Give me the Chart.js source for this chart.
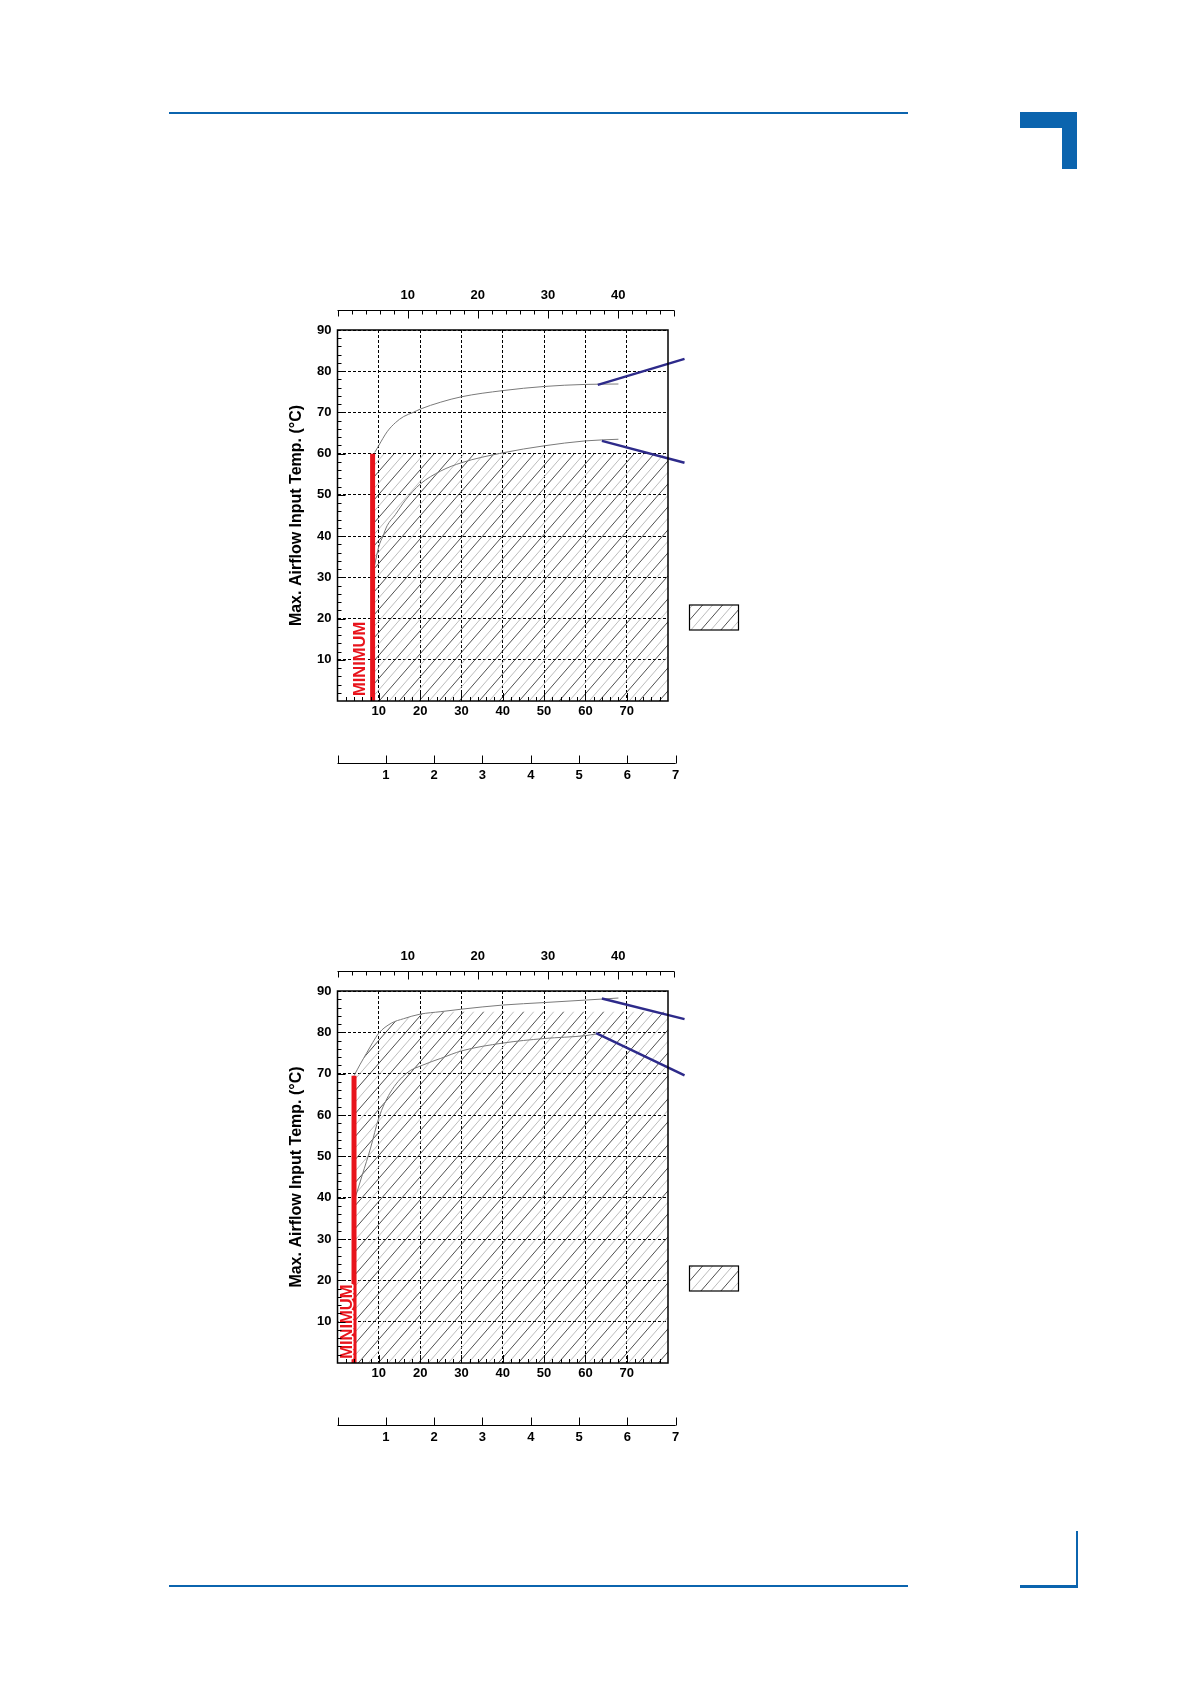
<!DOCTYPE html>
<html lang="en">
<head>
<meta charset="UTF-8">
<title>Max. Airflow Input Temp.</title>
<script src="https://cdn.jsdelivr.net/npm/chart.js@4.4.0/dist/chart.umd.min.js"></script>
<style>
  html, body { margin: 0; padding: 0; background: #fff; }
  body { position: relative; width: 1190px; height: 1684px; overflow: hidden; }
  .blue { position: absolute; background: #0b64ae; }
  canvas { position: absolute; left: 0; }
</style>
</head>
<body>

<div class="blue" style="left:169px; top:112px; width:739px; height:2px"></div>
<div class="blue" style="left:169px; top:1585px; width:739px; height:2px"></div>
<div class="blue" style="left:1020px; top:112px; width:57px; height:16px"></div>
<div class="blue" style="left:1062px; top:112px; width:15px; height:57px"></div>
<div class="blue" style="left:1020px; top:1585px; width:58px; height:2.5px"></div>
<div class="blue" style="left:1075.5px; top:1531px; width:2.5px; height:56px"></div>

<canvas id="chart1" width="800" height="600" style="top:240px"></canvas>
<canvas id="chart2" width="800" height="600" style="top:901px"></canvas>

<script>
// tick labels
const tempTicks = [10, 20, 30, 40, 50, 60, 70, 80, 90];
const flowTicks = [10, 20, 30, 40, 50, 60, 70];
const topTicks = [10, 20, 30, 40];
const speedTicks = [1, 2, 3, 4, 5, 6, 7];

// chart 1
const c1UpperX = [9, 10, 12, 14, 16, 18.3, 20, 25, 30, 40, 50, 60, 68];
const c1UpperY = [60.3, 62, 65.3, 67.5, 69, 70, 70.8, 72.5, 73.8, 75.3, 76.3, 76.8, 76.9];
const c1LowerX = [9, 10, 11, 12, 14, 16.5, 20, 25, 30, 40, 50, 60, 68];
const c1LowerY = [33, 37.5, 40, 42.5, 45.2, 48.8, 52.6, 55.8, 57.8, 60.2, 61.9, 63.1, 63.5];
const c1SafeX = [8.5, 80];
const c1SafeY = [60, 60];
const c1MinFlow = 8.5;
const c1MinTemp = 60;
const c1CallUpper = [[63, 76.7], [84, 83]];
const c1CallLower = [[64, 63.1], [84, 57.8]];

// chart 2
const c2UpperX = [4, 5.5, 7, 8.5, 10, 13, 16, 20, 25, 30, 40, 50, 60, 68];
const c2UpperY = [69.5, 72.3, 74.9, 77.5, 79.8, 82.2, 83.3, 84.4, 85, 85.6, 86.6, 87.2, 87.8, 88.3];
const c2LowerX = [4.3, 6, 8, 10, 12.7, 16.7, 20.7, 25, 30, 40, 50, 60, 62.6];
const c2LowerY = [40, 45.5, 52, 59.3, 65.3, 70.1, 72.1, 73.7, 75.5, 77.4, 78.5, 79.2, 79.6];
const c2SafeX = [4, 5.5, 7, 8.5, 10, 13, 16, 20, 24.5, 80];
const c2SafeY = [69.5, 72.3, 74.9, 77.5, 79.8, 82.2, 83.3, 84.4, 85, 85];
const c2MinFlow = 4;
const c2MinTemp = 69.5;
const c2CallUpper = [[64, 88.2], [84, 83.2]];
const c2CallLower = [[62.6, 79.8], [84, 69.6]];

const family = "'Liberation Sans', Arial, sans-serif";
const tickFont = { family: "'Liberation Sans Narrow', " + family, size: 13, weight: 'bold' };
const red = '#e8141c';
const navy = '#2d2a8a';

function pts(xs, ys) {
    return xs.map((x, i) => ({ x: x, y: ys[i] }));
}

// diagonal hatch, dark and light lines alternating
function hatch() {
    const c = document.createElement('canvas');
    c.width = 40; c.height = 46;
    const g = c.getContext('2d');
    g.lineWidth = 0.9;
    for (let d = -40; d <= 40; d += 20) {
        g.strokeStyle = '#3a3a3a';
        g.beginPath(); g.moveTo(d, 46); g.lineTo(d + 40, 0); g.stroke();
        g.strokeStyle = '#b4b4b4';
        g.beginPath(); g.moveTo(d + 10, 46); g.lineTo(d + 50, 0); g.stroke();
    }
    return g.createPattern(c, 'repeat');
}

// box, inner ticks, extra axes, legend swatch, MINIMUM label
const frame = {
    id: 'frame',
    afterDatasetsDraw(chart, args, o) {
        const { ctx, scales } = chart;
        ctx.save();
        ctx.translate(scales.x.getPixelForValue(o.minLabel[0]), scales.y.getPixelForValue(o.minLabel[1]));
        ctx.rotate(-Math.PI / 2);
        ctx.font = 'bold 16.5px ' + family;
        ctx.textAlign = 'center';
        ctx.textBaseline = 'middle';
        ctx.lineJoin = 'round';
        ctx.lineWidth = 3;
        ctx.strokeStyle = '#fff';
        ctx.strokeText('MINIMUM', 0, 0);
        ctx.fillStyle = red;
        ctx.fillText('MINIMUM', 0, 0);
        ctx.restore();
    },
    afterDraw(chart) {
        const { ctx, chartArea: a, scales } = chart;
        const x = scales.x, y = scales.y, top = scales.xTop, flow = scales.xFlow;
        ctx.save();
        ctx.strokeStyle = '#000';
        ctx.lineWidth = 1;
        ctx.beginPath();
        for (let v = 2; v < 90; v += 2) {
            const py = Math.round(y.getPixelForValue(v)) + 0.5;
            ctx.moveTo(a.left, py);
            ctx.lineTo(a.left + (v % 10 === 0 ? 8 : 4), py);
        }
        for (let v = 2; v < 80; v += 2) {
            const px = Math.round(x.getPixelForValue(v)) + 0.5;
            ctx.moveTo(px, a.bottom);
            ctx.lineTo(px, a.bottom - (v % 10 === 0 ? 8 : 4));
        }
        // top axis
        const ty = a.top - 19.5;
        ctx.moveTo(top.getPixelForValue(0), ty);
        ctx.lineTo(top.getPixelForValue(48), ty);
        for (let v = 0; v <= 48; v += 2) {
            const px = Math.round(top.getPixelForValue(v)) + 0.5;
            let len = v % 10 === 0 ? 8 : 4;
            if (v === 0 || v === 48) len = 6;
            ctx.moveTo(px, ty);
            ctx.lineTo(px, ty + len);
        }
        // flow axis
        const fy = a.bottom + 62.5;
        ctx.moveTo(flow.getPixelForValue(0), fy);
        ctx.lineTo(flow.getPixelForValue(7), fy);
        for (let v = 0; v <= 7; v++) {
            const px = Math.round(flow.getPixelForValue(v)) + 0.5;
            ctx.moveTo(px, fy);
            ctx.lineTo(px, fy - 8);
        }
        ctx.stroke();

        ctx.lineWidth = 1.5;
        ctx.strokeRect(a.left, a.top, a.right - a.left, a.bottom - a.top);

        // legend swatch
        ctx.fillStyle = hatch();
        ctx.fillRect(a.right + 21.5, a.top + 275, 49, 25);
        ctx.lineWidth = 1.2;
        ctx.strokeRect(a.right + 21.5, a.top + 275, 49, 25);
        ctx.restore();
    }
};

function makeChart(id, d) {
    const line = (data, color, width, extra) => Object.assign({
        data: data, borderColor: color, borderWidth: width, pointRadius: 0,
        fill: false, showLine: true
    }, extra || {});
    const grid = { display: true, drawTicks: false, color: '#000', lineWidth: 1 };
    return new Chart(document.getElementById(id), {
        type: 'line',
        data: {
            datasets: [
                line([{ x: d.minFlow, y: 0 }, { x: d.minFlow, y: d.minTemp }], red, 5),
                line(d.callUpper.map(p => ({ x: p[0], y: p[1] })), navy, 2.5, { clip: false }),
                line(d.callLower.map(p => ({ x: p[0], y: p[1] })), navy, 2.5, { clip: false }),
                line(d.upper, '#7a7a7a', 1, { cubicInterpolationMode: 'monotone' }),
                line(d.lower, '#7a7a7a', 1, { cubicInterpolationMode: 'monotone' }),
                line(d.safe, 'rgba(0,0,0,0)', 0, {
                    cubicInterpolationMode: 'monotone', fill: 'origin', backgroundColor: hatch()
                })
            ]
        },
        options: {
            responsive: false,
            animation: false,
            devicePixelRatio: 1,
            layout: { padding: { left: 277.5, right: 132, top: 30, bottom: d.padBottom } },
            plugins: {
                legend: { display: false },
                tooltip: { enabled: false },
                frame: { minLabel: d.minLabel }
            },
            scales: {
                x: {
                    type: 'linear', position: 'bottom', min: 0, max: 80, weight: 0,
                    afterBuildTicks: s => { s.ticks = flowTicks.map(v => ({ value: v })); },
                    afterFit: s => { s.height = 62; },
                    grid: grid,
                    border: { display: false, dash: [3, 2] },
                    ticks: { padding: 3, maxRotation: 0, autoSkip: false, color: '#000', font: tickFont }
                },
                xFlow: {
                    type: 'linear', position: 'bottom', min: 0, max: 6.84, weight: 1,
                    afterBuildTicks: s => { s.ticks = speedTicks.map(v => ({ value: v })); },
                    afterFit: s => { s.height = 40; },
                    grid: { display: false, drawTicks: false },
                    border: { display: false },
                    ticks: { padding: 4.5, maxRotation: 0, autoSkip: false, color: '#000', font: tickFont }
                },
                xTop: {
                    type: 'linear', position: 'top', min: 0, max: 47.1,
                    afterBuildTicks: s => { s.ticks = topTicks.map(v => ({ value: v })); },
                    afterFit: s => { s.height = 60; },
                    grid: { display: false, drawTicks: false },
                    border: { display: false },
                    ticks: { padding: 26.5, maxRotation: 0, autoSkip: false, color: '#000', font: tickFont }
                },
                y: {
                    type: 'linear', position: 'left', min: 0, max: 90,
                    afterBuildTicks: s => { s.ticks = tempTicks.map(v => ({ value: v })); },
                    afterFit: s => { s.width = 60; },
                    grid: grid,
                    border: { display: false, dash: [3, 2] },
                    ticks: { padding: 6, autoSkip: false, color: '#000', font: tickFont },
                    title: {
                        display: true, text: 'Max. Airflow Input Temp. (°C)', color: '#000',
                        font: { family: family, size: 16, weight: 'bold' },
                        padding: { top: 9.6, bottom: 0 }
                    }
                }
            }
        },
        plugins: [frame]
    });
}

makeChart('chart1', {
    upper: pts(c1UpperX, c1UpperY),
    lower: pts(c1LowerX, c1LowerY),
    safe: pts(c1SafeX, c1SafeY),
    minFlow: c1MinFlow, minTemp: c1MinTemp,
    callUpper: c1CallUpper, callLower: c1CallLower,
    minLabel: [5.6, 10.2],
    padBottom: 37
});

makeChart('chart2', {
    upper: pts(c2UpperX, c2UpperY),
    lower: pts(c2LowerX, c2LowerY),
    safe: pts(c2SafeX, c2SafeY),
    minFlow: c2MinFlow, minTemp: c2MinTemp,
    callUpper: c2CallUpper, callLower: c2CallLower,
    minLabel: [2.4, 10],
    padBottom: 36
});
</script>
</body>
</html>
